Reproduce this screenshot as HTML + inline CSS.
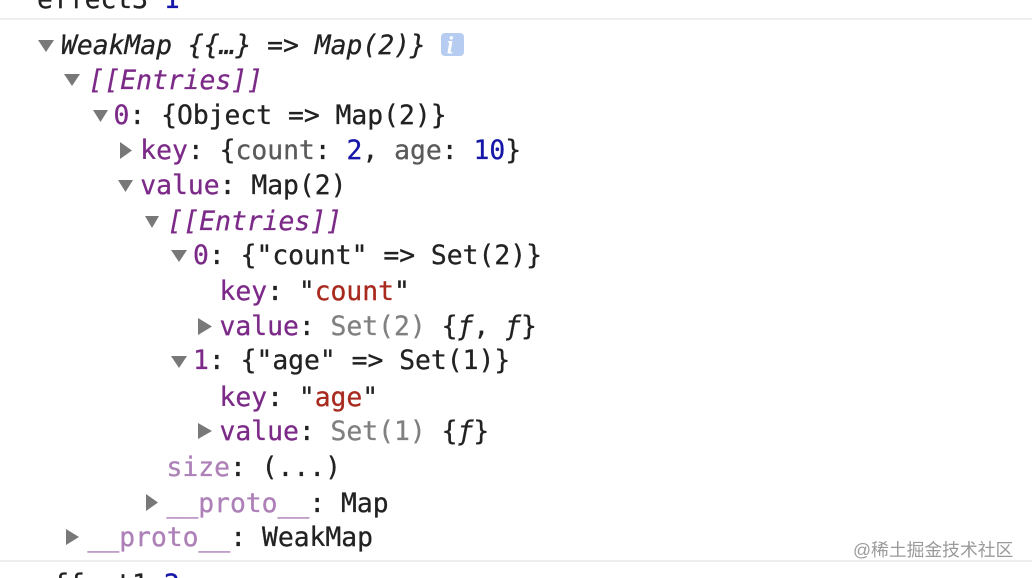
<!DOCTYPE html>
<html><head><meta charset="utf-8">
<style>
html,body{margin:0;padding:0;background:#fff}
body{width:1032px;height:578px;overflow:hidden;position:relative}
svg{position:absolute;left:0;top:0}
text{font-family:"DejaVu Sans Mono","Liberation Mono",monospace;font-size:26.35px;fill:#222;stroke:#222;stroke-width:.3px;white-space:pre}
.p{fill:#7c2a88;stroke:#7c2a88}.d{fill:#ad80b8;stroke:#ad80b8}.g{fill:#5a5a5a;stroke:#5a5a5a}.n{fill:#1616a8;stroke:#1616a8}.r{fill:#a82a1e;stroke:#a82a1e}.s{fill:#808080;stroke:#808080}
.i{font-style:italic}
.wm{font-family:"Liberation Sans","Noto Sans CJK SC",sans-serif;font-size:17.8px;fill:#9a9a9a;stroke:none}
</style></head><body>
<svg width="1032" height="578" viewBox="0 0 1032 578" xmlns="http://www.w3.org/2000/svg">
<rect x="0" y="18" width="1032" height="2" fill="#eeeeee"/>
<rect x="0" y="560" width="1032" height="2" fill="#eeeeee"/>
<g fill="#787878">
<path d="M38 40H54L46 52Z"/>
<path d="M64 74H80L72 86Z"/>
<path d="M93 110H108L100.500 122Z"/>
<path d="M120 142V159L132 150.500Z"/>
<path d="M118 180H133L125.500 192Z"/>
<path d="M145 216H159L152 228Z"/>
<path d="M171 250H187L179 262Z"/>
<path d="M198 318V335L212 326.500Z"/>
<path d="M171 356H187L179 368Z"/>
<path d="M198 423V439L212 431Z"/>
<path d="M146 494V511L158 502.500Z"/>
<path d="M66 529V545L79 537Z"/>
</g>
<rect x="441" y="33" width="23" height="23" rx="4" fill="#b6ccf0"/>
<text x="446.500" y="53" class="i" style="fill:#fff;stroke:#fff;stroke-width:.8px;font-family:'Liberation Serif',serif;font-size:25px">i</text>
<text x="37" y="8">effect3 <tspan class="n">1</tspan></text>
<text x="61" y="54" class="i">WeakMap {{…} =&gt; Map(2)}</text>
<text x="88.500" y="89" class="p i">[[Entries]]</text>
<text x="113.500" y="124"><tspan class="p">0</tspan>: {Object =&gt; Map(2)}</text>
<text x="140.300" y="159"><tspan class="p">key</tspan>: {<tspan class="g">count</tspan>: <tspan class="n">2</tspan>, <tspan class="g">age</tspan>: <tspan class="n">10</tspan>}</text>
<text x="140.300" y="194"><tspan class="p">value</tspan>: Map(2)</text>
<text x="167.500" y="230" class="p i">[[Entries]]</text>
<text x="193" y="264"><tspan class="p">0</tspan>: {"count" =&gt; Set(2)}</text>
<text x="219.500" y="300"><tspan class="p">key</tspan>: "<tspan class="r">count</tspan>"</text>
<text x="219.500" y="335"><tspan class="p">value</tspan>: <tspan class="s">Set(2)</tspan> {<tspan class="i">ƒ</tspan>, <tspan class="i">ƒ</tspan>}</text>
<text x="193" y="369"><tspan class="p">1</tspan>: {"age" =&gt; Set(1)}</text>
<text x="219.500" y="406"><tspan class="p">key</tspan>: "<tspan class="r">age</tspan>"</text>
<text x="219.500" y="440"><tspan class="p">value</tspan>: <tspan class="s">Set(1)</tspan> {<tspan class="i">ƒ</tspan>}</text>
<text x="166.500" y="476"><tspan class="d">size</tspan>: (...)</text>
<text x="166.500" y="512"><tspan class="d">__proto__</tspan>: Map</text>
<text x="87.500" y="546"><tspan class="d">__proto__</tspan>: WeakMap</text>
<text x="37" y="593">effect1 <tspan class="n">2</tspan></text>
<text x="853" y="556" class="wm">@稀土掘金技术社区</text>
</svg>
</body></html>
